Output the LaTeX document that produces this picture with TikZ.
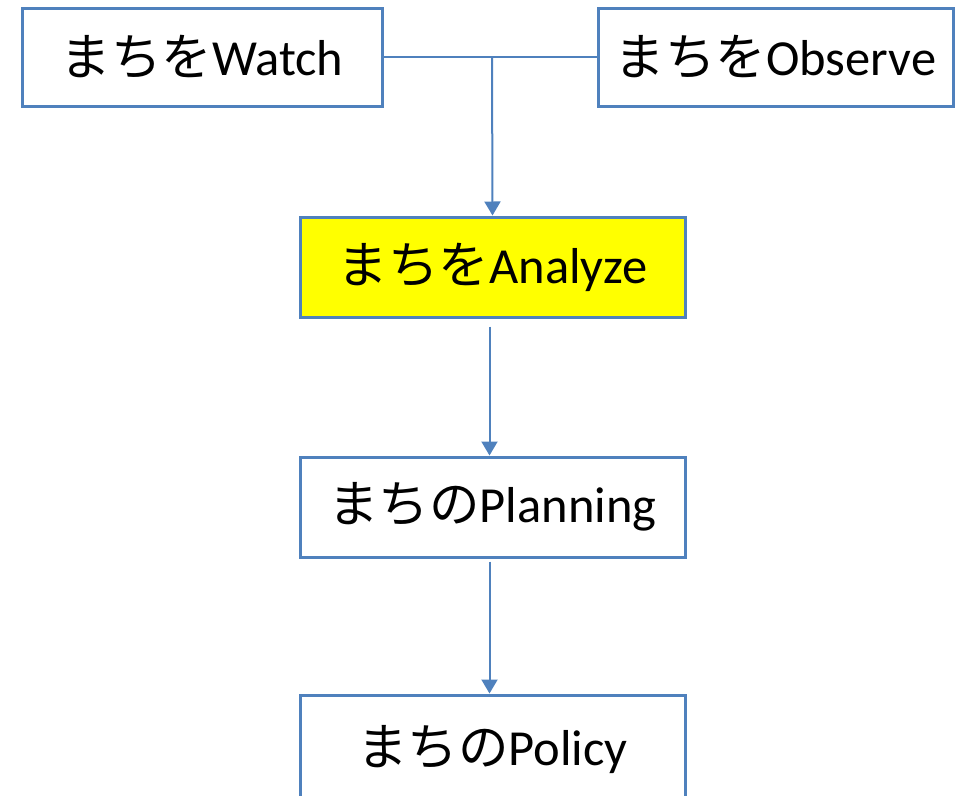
\documentclass[tikz,border=0pt]{standalone}
\usepackage{fontspec}
\setmainfont{Carlito}
\newfontfamily\jp{Noto Sans CJK JP}
\usetikzlibrary{arrows.meta,calc}
\definecolor{boxblue}{RGB}{79,129,189}
\definecolor{hlyellow}{RGB}{255,255,0}
\begin{document}
\begin{tikzpicture}[x=1pt,y=-1pt,
  box/.style={draw=boxblue,line width=3pt,fill=white,minimum height=98pt,inner sep=0pt,font=\fontsize{50.5}{54}\selectfont},
  conn/.style={draw=boxblue,line width=2pt},
  arr/.style={conn,-{Triangle[width=16pt,length=14pt]}}]
\clip (0,0) rectangle (968,795);
\useasboundingbox (0,0) rectangle (968,795);
\node[box,minimum width=360pt] (watch) at (202,57) {{\jp まちを}Watch};
\node[box,minimum width=355pt] (observe) at (775.5,57) {{\jp まちを}Observe};
\node[box,minimum width=385pt,minimum height=100pt,fill=hlyellow] (analyze) at (492.5,267) {{\jp まちを}Analyze};
\node[box,minimum width=385pt,minimum height=100pt] (planning) at (492.5,507) {{\jp まちの}Planning};
\node[box,minimum width=385pt,minimum height=110pt] (policy) at (492.5,750) {{\jp まちの}Policy};
\coordinate (join) at (492,57);
\draw[conn] (watch.east) -- (observe.west);
\draw[arr] (join) -- (analyze.north);
\draw[arr,shorten <=8pt] ([xshift=-3pt]analyze.south) -- ([xshift=-3pt]planning.north);
\draw[arr,shorten <=3pt] ([xshift=-3pt]planning.south) -- ([xshift=-3pt]policy.north);
\end{tikzpicture}
\end{document}
